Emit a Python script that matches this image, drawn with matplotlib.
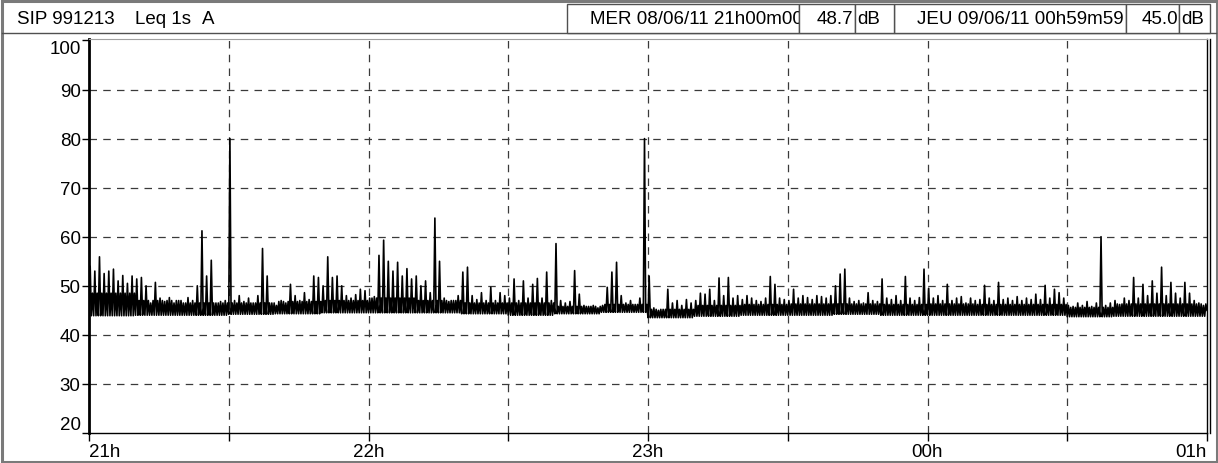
"""Leq 1s A sound level chart, 21h - 01h."""

import matplotlib

matplotlib.use("Agg")
import matplotlib.pyplot as plt
from matplotlib.patches import Rectangle


W, H = 1218, 464

# peak level per minute, 21h00 -> 01h00 (dB)
peak_db = [
    54.0, 53.0, 55.9, 52.5, 53.0, 53.4, 51.0, 52.1, 50.5, 52.0,
    51.4, 51.7, 50.0, 46.5, 50.7, 47.5, 46.8, 47.6, 46.5, 47.0,
    46.5, 47.6, 47.0, 50.0, 61.2, 52.0, 55.2, 46.5, 46.8, 47.0,
    80.0, 47.0, 48.0, 46.8, 47.5, 46.5, 48.0, 57.6, 52.0, 46.5,
    46.0, 47.0, 46.5, 50.3, 48.0, 47.0, 48.6, 47.2, 52.0, 51.7,
    50.0, 55.9, 51.7, 52.0, 50.0, 48.0, 47.5, 48.2, 49.3, 49.0,
    47.5, 47.8, 56.2, 59.3, 55.0, 53.0, 54.8, 52.0, 53.5, 51.4,
    52.0, 50.0, 51.0, 48.6, 63.8, 55.0, 47.5, 46.8, 47.0, 48.0,
    52.8, 53.8, 48.0, 47.2, 48.6, 47.0, 49.7, 47.0, 48.6, 48.0,
    47.5, 51.4, 47.0, 51.0, 47.5, 50.3, 51.5, 47.5, 52.8, 47.0,
    58.6, 47.0, 46.5, 46.8, 53.1, 48.3, 46.0, 45.8, 46.0, 45.5,
    46.0, 49.7, 52.8, 54.8, 48.0, 46.5, 47.0, 46.2, 47.5, 80.0,
    52.0, 45.5, 45.0, 45.2, 49.3, 46.5, 47.0, 46.0, 47.2, 46.5,
    47.0, 48.5, 48.3, 49.3, 47.0, 51.6, 48.0, 51.7, 47.5, 48.0,
    47.2, 48.0, 47.5, 47.0, 46.8, 47.5, 51.9, 50.3, 47.5, 47.2,
    47.0, 49.3, 47.5, 48.0, 47.6, 47.2, 48.0, 47.8, 47.5, 48.0,
    50.0, 52.4, 53.4, 47.5, 46.8, 47.0, 46.5, 48.6, 47.0, 46.8,
    51.4, 47.5, 47.2, 48.0, 47.0, 51.9, 47.5, 47.0, 47.6, 53.4,
    49.5, 47.5, 48.0, 47.0, 50.3, 47.0, 47.5, 47.8, 46.5, 47.5,
    47.0, 47.2, 50.1, 47.5, 47.0, 50.7, 47.2, 47.5, 47.0, 47.8,
    47.0, 47.5, 47.2, 48.3, 47.2, 50.1, 47.5, 49.3, 48.6, 47.5,
    46.0, 45.8, 46.5, 46.0, 46.8, 45.8, 46.5, 60.0, 46.0, 46.5,
    47.0, 46.2, 47.5, 47.0, 51.7, 47.5, 50.3, 48.0, 51.0, 48.5,
    53.8, 48.0, 50.7, 48.5, 47.5, 50.7, 48.5, 47.0, 46.5, 46.0,
]
# background floor per 10 minutes (dB)
floor_db = [
    43.9, 44.0, 44.0, 44.2, 44.3, 44.5, 44.5, 44.5, 44.3, 44.0, 44.3, 44.6,
    43.5, 43.8, 44.0, 44.0, 44.2, 44.0, 44.0, 44.0, 44.0, 43.7, 43.8, 43.8,
]
# upper edge of the dense background band per 10 minutes (dB)
band_db = [
    48.5, 47.0, 46.5, 46.5, 46.8, 47.0, 47.5, 47.0, 46.5, 46.5, 45.8, 46.2,
    45.2, 46.0, 46.2, 46.3, 46.3, 46.2, 46.3, 46.2, 46.2, 45.6, 46.3, 46.3,
]
end_db = 45.0

hour_labels = ["21h", "", "22h", "", "23h", "", "00h", "", "01h"]
level_ticks = [20, 30, 40, 50, 60, 70, 80, 90, 100]

station = "SIP 991213"
measure = "Leq 1s"
weighting = "A"
start_stamp = "MER 08/06/11 21h00m00"
start_level = "48.7"
end_stamp = "JEU 09/06/11 00h59m59"
end_level = "45.0"

GRID = "#3a3a3a"
FRAME = "#7a7a7a"
BOX = "#505050"
FS = 13.5


def build_trace():
    # two swings per minute: floor -> peak -> floor -> band edge
    xs, ys = [], []
    for i, peak in enumerate(peak_db):
        lo = floor_db[i // 10]
        hi = band_db[i // 10]
        xs += [i, i + 0.25, i + 0.5, i + 0.75]
        ys += [lo, peak, lo, hi]
    xs.append(len(peak_db))
    ys.append(end_db)
    return xs, ys


def draw_plot(fig):
    left, right, top, bottom = 89, 1207, 40, 434
    ax = fig.add_axes([left / W, (H - bottom) / H, (right - left) / W, (bottom - top) / H])
    xs, ys = build_trace()
    ax.plot(xs, ys, color="black", linewidth=1.2, zorder=3)

    ax.set_xlim(0, 240)
    ax.set_ylim(20, 100.3)
    for y in level_ticks[1:-1]:
        ax.axhline(y, color=GRID, linewidth=0.9, linestyle=(0, (6, 5)), zorder=1)
    for x in range(30, 240, 30):
        ax.axvline(x, color=GRID, linewidth=0.9, linestyle=(0, (6, 5)), zorder=1)

    ax.set_xticks(range(0, 241, 30))
    ax.set_xticklabels(hour_labels)
    ax.set_yticks(level_ticks)
    ax.set_yticklabels([str(v) for v in level_ticks])
    ax.tick_params(axis="x", direction="out", length=6, width=1, pad=1, labelsize=FS)
    ax.tick_params(axis="y", direction="out", length=5, width=1, pad=1, labelsize=FS)
    xl = ax.get_xticklabels()
    xl[0].set_ha("left")
    xl[-1].set_ha("right")
    yl = ax.get_yticklabels()
    yl[0].set_va("bottom")
    yl[-1].set_va("top")

    ax.spines["left"].set_linewidth(2.0)
    ax.spines["bottom"].set_linewidth(1.0)
    ax.spines["top"].set_linewidth(0.8)
    ax.spines["top"].set_color("#a0a0a0")
    ax.spines["right"].set_linewidth(1.0)
    return ax


def draw_header(fig):
    ov = fig.add_axes([0, 0, 1, 1], zorder=5)
    ov.set_xlim(0, W)
    ov.set_ylim(H, 0)
    ov.axis("off")
    ov.patch.set_visible(False)

    ov.add_patch(Rectangle((1.5, 1.5), W - 3, H - 3, fill=False, ec=FRAME, lw=2.2))
    ov.plot([2, W - 2], [34, 34], color=BOX, lw=1.0)
    ov.plot([1210, 1210], [40, 434], color="black", lw=1.0)

    ty = 19
    ov.text(17, ty, station, fontsize=FS, va="center")
    ov.text(135, ty, measure, fontsize=FS, va="center")
    ov.text(202, ty, weighting, fontsize=FS, va="center")

    boxes = [
        (567, 799, start_stamp, 590, "left", 2),
        (799, 855, start_level, 853, "right", 4),
        (855, 894, "dB", 857, "left", 6),
        (894, 1126, end_stamp, 917, "left", 2),
        (1126, 1179, end_level, 1178, "right", 4),
        (1179, 1210, "dB", 1181, "left", 6),
    ]
    for x0, x1, label, tx, ha, z in boxes:
        ov.add_patch(Rectangle((x0, 5), x1 - x0, 29, fc="white", ec=BOX, lw=1.0, zorder=z))
        ov.text(tx, ty, label, fontsize=FS, va="center", ha=ha, zorder=z + 1)


def main():
    plt.rcParams["font.family"] = ["Liberation Sans", "DejaVu Sans"]
    fig = plt.figure(figsize=(W / 100, H / 100), dpi=100)
    fig.patch.set_facecolor("white")
    draw_plot(fig)
    draw_header(fig)
    fig.savefig("out.png", dpi=100)
    plt.close(fig)


if __name__ == "__main__":
    main()
